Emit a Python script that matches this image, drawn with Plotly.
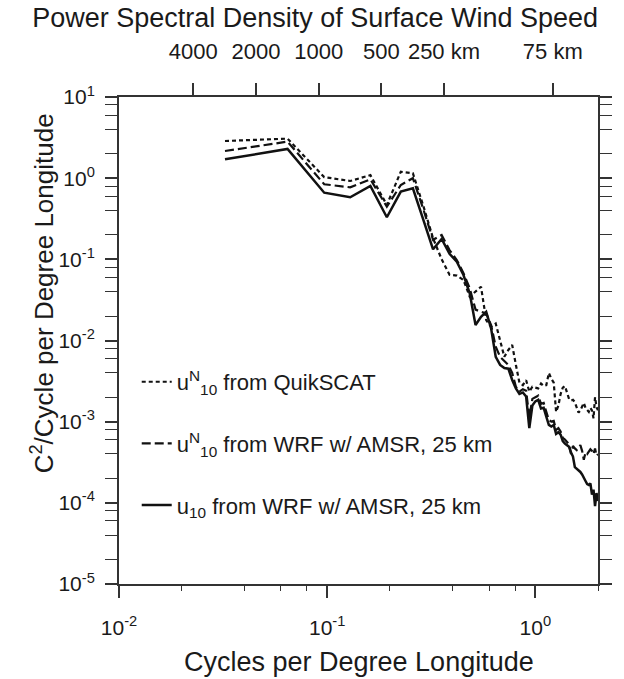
import plotly.graph_objects as go

# Spectral frequency bins (cycles per degree longitude)
cycles_per_degree = [
    0.0323, 0.0645, 0.0968, 0.129, 0.1613, 0.1935, 0.2258, 0.2581, 0.2903, 0.3226,
    0.3548, 0.3871, 0.4194, 0.4516, 0.4839, 0.5161, 0.5484, 0.5806, 0.6129, 0.6452,
    0.6774, 0.7097, 0.7419, 0.7742, 0.8065, 0.8387, 0.871, 0.9032, 0.9355, 0.9677,
    1.0, 1.0323, 1.0645, 1.0968, 1.129, 1.1613, 1.1935, 1.2258, 1.2581, 1.2903,
    1.3226, 1.3548, 1.3871, 1.4194, 1.4516, 1.4839, 1.5161, 1.5484, 1.5806, 1.6129,
    1.6452, 1.6774, 1.7097, 1.7419, 1.7742, 1.8065, 1.8387, 1.871, 1.9032, 1.9355,
    1.9677, 2.0,
]

# Power spectral density, u10N from QuikSCAT
psd_quikscat = [
    2.87, 3.07, 1.03, 0.923, 1.09, 0.468, 1.20, 1.15, 0.447, 0.182,
    0.100, 0.0646, 0.063, 0.0556, 0.0347, 0.0398, 0.046, 0.0178, 0.0148, 0.0162,
    0.0100, 0.0063, 0.00764, 0.00881, 0.0050, 0.00302, 0.00282, 0.00324, 0.00234, 0.00269,
    0.00263, 0.00257, 0.00295, 0.00275, 0.00282, 0.00398, 0.00339, 0.00302, 0.00132, 0.00158,
    0.00219, 0.00263, 0.00275, 0.00229, 0.00191, 0.00182, 0.00186, 0.00174, 0.00151, 0.00129,
    0.00138, 0.00158, 0.0017, 0.00148, 0.00138, 0.00132, 0.00148, 0.00138, 0.0011, 0.0020,
    0.00151, 0.00138,
]

# Power spectral density, u10N from WRF w/ AMSR, 25 km
psd_wrf_neutral = [
    2.16, 2.82, 0.841, 0.771, 0.968, 0.446, 0.824, 1.00, 0.407, 0.174,
    0.200, 0.130, 0.0982, 0.0676, 0.044, 0.024, 0.0226, 0.0216, 0.0155, 0.0084,
    0.0063, 0.00562, 0.0050, 0.00398, 0.00269, 0.00234, 0.00251, 0.0024, 0.00112, 0.00191,
    0.0020, 0.00209, 0.00166, 0.0017, 0.00132, 0.00105, 0.0010, 0.00102, 0.000794, 0.000832,
    0.000759, 0.000631, 0.000603, 0.000562, 0.000525, 0.000398, 0.000501, 0.000468, 0.000447, 0.000479,
    0.000513, 0.000437, 0.000339, 0.000417, 0.000398, 0.000427, 0.000457, 0.000437, 0.000398, 0.000468,
    0.00038, 0.000398,
]

# Power spectral density, u10 from WRF w/ AMSR, 25 km
psd_wrf = [
    1.71, 2.29, 0.662, 0.581, 0.802, 0.330, 0.682, 0.750, 0.302, 0.133,
    0.178, 0.117, 0.0933, 0.0641, 0.0382, 0.0155, 0.0196, 0.0226, 0.0141, 0.0063,
    0.0050, 0.00457, 0.0045, 0.00326, 0.00257, 0.00219, 0.00229, 0.00204, 0.000832, 0.00158,
    0.00178, 0.00186, 0.00145, 0.00148, 0.00115, 0.000912, 0.000871, 0.000912, 0.000708, 0.000741,
    0.000692, 0.000575, 0.000537, 0.000513, 0.00049, 0.000417, 0.000372, 0.000275, 0.000263, 0.000251,
    0.00024, 0.000224, 0.0002, 0.000186, 0.00017, 0.000166, 0.000174, 0.000126, 0.000145, 0.0000912,
    0.000132, 0.000105,
]

series_names = [
    "u<sup>N</sup><sub>10</sub> from QuikSCAT",
    "u<sup>N</sup><sub>10</sub> from WRF w/ AMSR, 25 km",
    "u<sub>10</sub> from WRF w/ AMSR, 25 km",
]

# Bottom axis ticks
x_tickvals = [0.01, 0.1, 1]
x_ticktext = ["10<sup>-2</sup>", "10<sup>-1</sup>", "10<sup>0</sup>"]
x_minor = [0.02, 0.04, 0.06, 0.08, 0.2, 0.4, 0.6, 0.8, 2]

# Left axis ticks
y_tickvals = [1e-5, 1e-4, 1e-3, 1e-2, 1e-1, 1, 10]
y_ticktext = ["10<sup>-5</sup>", "10<sup>-4</sup>", "10<sup>-3</sup>", "10<sup>-2</sup>",
              "10<sup>-1</sup>", "10<sup>0</sup>", "10<sup>1</sup>"]
y_minor = [m * d for d in [1e-5, 1e-4, 1e-3, 1e-2, 1e-1, 1] for m in (2, 4, 6, 8)]

# Top axis: wavelength in km
km_per_degree = 91.0
wavelength_km = [4000, 2000, 1000, 500, 250, 75]
wavelength_text = ["4000", "2000", "1000", "500", "250 km", "75 km"]
top_tickvals = [km_per_degree / w for w in wavelength_km]

FONT = "Liberation Sans, Arial, Helvetica, sans-serif"
INK = "#1a1a1a"
AXIS = "#333333"

fig = go.Figure()

styles = [
    dict(dash="4px,3px", width=2.2),
    dict(dash="9px,4px", width=2.2),
    dict(dash="solid", width=2.5),
]
for i, (name, psd, st) in enumerate(zip(series_names,
                                        [psd_quikscat, psd_wrf_neutral, psd_wrf],
                                        styles)):
    fig.add_trace(go.Scatter(
        x=cycles_per_degree, y=psd, mode="lines", name=name,
        legendgroup=f"g{i}",
        line=dict(color="#111111", width=st["width"], dash=st["dash"]),
    ))

# invisible carrier for the wavelength axis
fig.add_trace(go.Scatter(
    x=top_tickvals, y=[1] * len(top_tickvals), xaxis="x2", mode="markers",
    marker=dict(opacity=0), showlegend=False, hoverinfo="skip",
))

fig.update_layout(
    width=624, height=679,
    margin=dict(l=119, r=18, t=97, b=95),
    paper_bgcolor="white", plot_bgcolor="white",
    font=dict(family=FONT, color=INK),
    showlegend=True,
    title=dict(
        text="Power Spectral Density of Surface Wind Speed",
        font=dict(size=27, color=INK, family=FONT),
        x=0.505, xref="container", xanchor="center",
        y=1 - 18 / 679, yref="container", yanchor="middle",
    ),
    xaxis=dict(
        type="log", range=[-2, 0.30103],
        tickmode="array", tickvals=x_tickvals, ticktext=x_ticktext,
        ticks="outside", ticklen=12, tickwidth=1.5, tickcolor=AXIS,
        showline=True, linewidth=2, linecolor=AXIS, mirror=False,
        showgrid=False, zeroline=False,
        tickfont=dict(size=21, color=INK),
        ticklabelstandoff=12,
        minor=dict(tickmode="array", tickvals=x_minor, ticks="outside",
                   ticklen=5, tickwidth=1.2, tickcolor=AXIS, showgrid=False),
    ),
    xaxis2=dict(
        type="log", range=[-2, 0.30103], overlaying="x", side="top", anchor="y",
        tickmode="array", tickvals=top_tickvals, ticktext=wavelength_text,
        ticks="outside", ticklen=12, tickwidth=1.5, tickcolor=AXIS,
        showline=True, linewidth=2, linecolor=AXIS,
        showgrid=False, zeroline=False,
        tickfont=dict(size=22, color=INK),
        ticklabelstandoff=15,
    ),
    yaxis=dict(
        type="log", range=[-5, 1],
        tickmode="array", tickvals=y_tickvals, ticktext=y_ticktext,
        ticks="outside", ticklen=12, tickwidth=1.5, tickcolor=AXIS,
        showline=True, linewidth=2, linecolor=AXIS, mirror="allticks",
        showgrid=False, zeroline=False,
        tickfont=dict(size=21, color=INK),
        ticklabelstandoff=6,
        minor=dict(tickmode="array", tickvals=y_minor, ticks="outside",
                   ticklen=6, tickwidth=1.2, tickcolor=AXIS, showgrid=False),
    ),
    legend=dict(
        x=0.037, xanchor="left", y=0.458, yanchor="top",
        bgcolor="rgba(0,0,0,0)", borderwidth=0,
        font=dict(size=22, color=INK, family=FONT),
        tracegroupgap=30, traceorder="grouped",
    ),
    annotations=[
        dict(text="Cycles per Degree Longitude", xref="paper", yref="paper",
             x=0.5, y=(584 - 662) / 487, xanchor="center", yanchor="middle",
             showarrow=False, font=dict(size=27, color=INK, family=FONT)),
        dict(text="C<sup>2</sup>/Cycle per Degree Longitude", xref="paper", yref="paper",
             x=(41 - 119) / 487, y=(584 - 293) / 487, xanchor="center", yanchor="middle",
             textangle=-90, showarrow=False, font=dict(size=26, color=INK, family=FONT)),
    ],
)

fig.write_html("out.html")
